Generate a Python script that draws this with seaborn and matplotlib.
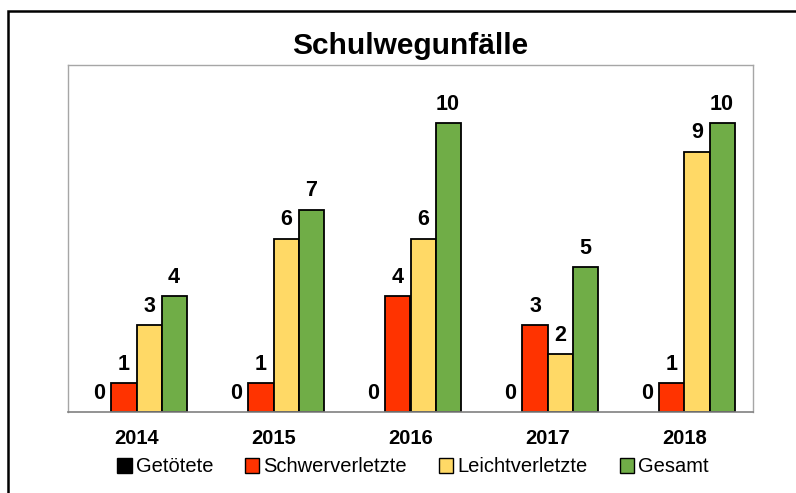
import pandas as pd
import numpy as np
import seaborn as sns
import matplotlib.pyplot as plt
from matplotlib.patches import Rectangle

# Daten
jahre = ['2014', '2015', '2016', '2017', '2018']
getoetete = [0, 0, 0, 0, 0]
schwerverletzte = [1, 1, 4, 3, 1]
leichtverletzte = [3, 6, 6, 2, 9]
gesamt = [4, 7, 10, 5, 10]

serien = ['Getötete', 'Schwerverletzte', 'Leichtverletzte', 'Gesamt']
farben = ['#000000', '#FF3300', '#FFD966', '#70AD47']

df = pd.DataFrame({'Jahr': jahre * 4,
                   'Art': np.repeat(serien, len(jahre)),
                   'Anzahl': getoetete + schwerverletzte + leichtverletzte + gesamt})

sns.set_style('white')
plt.rcParams['font.family'] = ['Liberation Sans', 'DejaVu Sans']
plt.rcParams['text.color'] = 'black'
plt.rcParams['xtick.color'] = 'black'

fig = plt.figure(figsize=(7.96, 4.93), dpi=100)
ax = fig.add_axes([68/796, 1-412/493, (753-68)/796, (412-65)/493])

sns.barplot(data=df, x='Jahr', y='Anzahl', hue='Art', hue_order=serien,
            palette=farben, saturation=1, width=0.73, edgecolor='black', linewidth=1.3,
            legend=False, ax=ax)

# Nullbalken ohne Rand
for p in ax.containers[0]:
    p.set_linewidth(0)

# Beschriftungen
for c in ax.containers:
    ax.bar_label(c, padding=6, fontsize=15.5, fontweight='bold', color='black')

ax.set_ylim(0, 12)
ax.set_yticks([])
ax.set_xlabel('')
ax.set_ylabel('')
ax.set_title('Schulwegunfälle', fontsize=21.5, fontweight='bold', pad=8, color='black')

ax.set_xticks(range(len(jahre)))
ax.set_xticklabels(jahre, fontsize=14.5, fontweight='bold')
ax.tick_params(axis='x', which='major', length=0, pad=12, labelcolor='black')
ax.set_xticks(np.arange(-0.5, len(jahre), 1), minor=True)
ax.tick_params(axis='x', which='minor', length=5, width=1, color='#808080', direction='out')
ax.set_xlim(-0.5, len(jahre) - 0.5)

for s in ['left', 'top', 'right']:
    ax.spines[s].set_color('#A6A6A6')
    ax.spines[s].set_linewidth(1)
ax.spines['bottom'].set_color('#808080')
ax.spines['bottom'].set_linewidth(1.2)

# Legende
handles = [Rectangle((0, 0), 1, 1, facecolor=f, edgecolor='black', linewidth=1) for f in farben]
fig.legend(handles, serien, loc='center', bbox_to_anchor=(413/796, 1-467/493), ncol=4,
           frameon=False, fontsize=14.5, handlelength=0.7, handleheight=0.7,
           handletextpad=0.2, columnspacing=1.6)

# Rahmen
fig.patches.append(Rectangle((8/796, -0.1), 1.5, 1.1 - 11/493, transform=fig.transFigure,
                             fill=False, edgecolor='black', linewidth=1.8))

fig.savefig('out.png', dpi=100)
